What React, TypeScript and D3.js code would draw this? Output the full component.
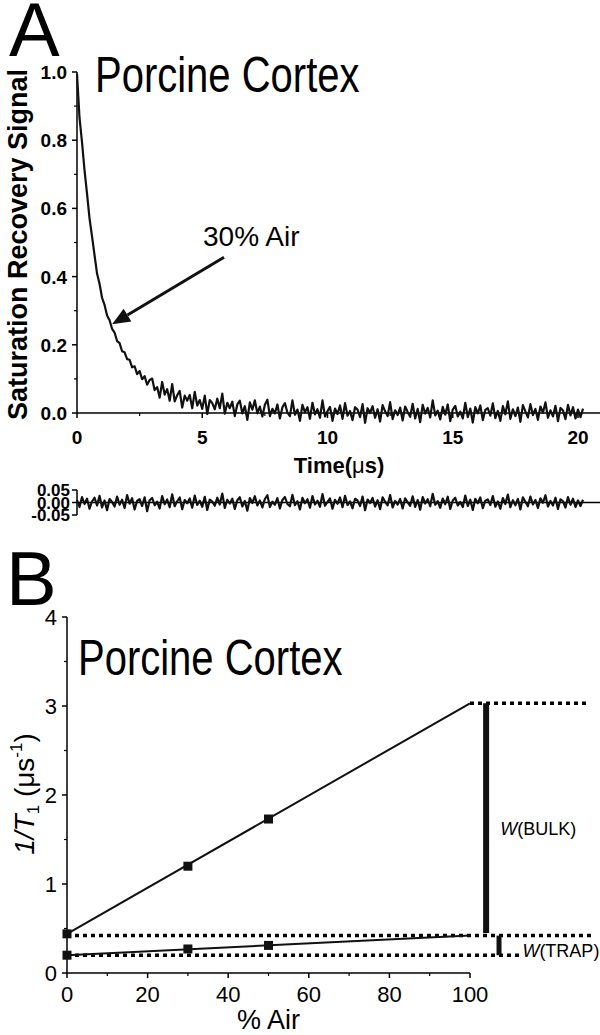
import React from "react";
import * as d3 from "d3";

// panel A: saturation recovery trace, sampled every 0.1 us
const dt = 0.1;
const signal = [
  0.995, 0.866, 0.794, 0.712, 0.643, 0.571, 0.518, 0.463, 0.409, 0.379,
  0.338, 0.317, 0.286, 0.272, 0.247, 0.236, 0.211, 0.205, 0.181, 0.178,
  0.158, 0.156, 0.134, 0.137, 0.114, 0.123, 0.099, 0.108, 0.083, 0.097,
  0.101, 0.067, 0.076, 0.045, 0.091, 0.054, 0.070, 0.036, 0.085, 0.034,
  0.052, 0.065, 0.016, 0.051, 0.036, 0.053, 0.014, 0.062, 0.022, 0.038,
  0.012, 0.051, -0.003, 0.038, 0.029, 0.011, 0.042, 0.014, 0.057, -0.002,
  0.030, 0.014, 0.033, -0.009, 0.025, 0.036, -0.001, 0.020, -0.020, 0.031,
  0.010, 0.037, -0.001, 0.019, -0.010, 0.024, 0.039, -0.009, 0.012, -0.001,
  0.025, -0.016, 0.017, 0.029, 0.001, -0.009, 0.037, -0.005, 0.010, -0.023,
  0.024, 0.002, 0.017, -0.017, 0.030, -0.004, 0.011, -0.014, 0.037, -0.010,
  0.005, 0.018, -0.023, 0.013, -0.003, 0.022, -0.017, 0.029, -0.008, 0.006,
  -0.021, 0.017, 0.010, -0.012, 0.026, -0.029, 0.014, 0.000, 0.020, -0.014,
  0.011, -0.025, 0.023, 0.005, -0.009, 0.032, -0.018, 0.008, -0.006, 0.016,
  -0.022, 0.019, 0.003, -0.011, 0.027, -0.016, 0.012, -0.027, 0.024, -0.002,
  0.015, -0.013, 0.037, -0.007, 0.007, -0.019, 0.018, -0.005, 0.025, -0.024,
  0.010, 0.021, -0.010, 0.004, -0.016, 0.030, -0.012, 0.013, -0.028, 0.017,
  -0.001, 0.022, -0.021, 0.009, 0.014, -0.008, 0.028, -0.015, 0.006, -0.023,
  0.020, -0.004, 0.034, -0.017, 0.011, -0.009, 0.016, -0.026, 0.023, 0.005,
  -0.013, 0.026, -0.006, 0.012, -0.020, 0.019, 0.001, 0.031, -0.014, 0.008,
  -0.010, 0.021, -0.024, 0.015, 0.007, -0.018, 0.024, -0.007, 0.017, -0.016,
  0.010, -0.012, 0.013,
];
const residual = [
  0.010, -0.018, 0.022, -0.006, 0.015, -0.025, 0.004, 0.019, -0.012, 0.027,
  -0.020, 0.008, -0.031, 0.014, 0.002, -0.016, 0.024, -0.009, 0.011, -0.022,
  0.030, -0.005, 0.017, -0.028, 0.006, 0.013, -0.014, 0.021, -0.035, 0.009,
  0.018, -0.011, 0.003, -0.024, 0.026, -0.007, 0.012, -0.019, 0.033, -0.015,
  0.005, 0.020, -0.027, 0.010, -0.003, 0.016, -0.021, 0.028, -0.010, 0.007,
  -0.017, 0.023, -0.030, 0.012, 0.004, -0.013, 0.019, -0.008, 0.036, -0.022,
  0.011, -0.004, 0.015, -0.026, 0.009, 0.021, -0.016, 0.006, -0.033, 0.018,
  -0.002, 0.025, -0.012, 0.008, -0.020, 0.014, 0.029, -0.018, 0.003, -0.009,
  0.017, -0.024, 0.010, 0.022, -0.006, -0.015, 0.031, -0.011, 0.005, -0.028,
  0.019, -0.003, 0.013, -0.021, 0.026, -0.008, 0.007, -0.017, 0.034, -0.013,
  0.002, 0.016, -0.025, 0.011, -0.005, 0.020, -0.019, 0.027, -0.010, 0.004,
  -0.023, 0.015, 0.008, -0.014, 0.024, -0.031, 0.012, -0.002, 0.018, -0.016,
  0.009, -0.027, 0.021, 0.003, -0.011, 0.030, -0.020, 0.006, -0.008, 0.014,
  -0.024, 0.017, 0.001, -0.013, 0.025, -0.018, 0.010, -0.029, 0.022, -0.004,
  0.013, -0.015, 0.035, -0.009, 0.005, -0.021, 0.016, -0.007, 0.023, -0.026,
  0.008, 0.019, -0.012, 0.002, -0.018, 0.028, -0.014, 0.011, -0.030, 0.015,
  -0.003, 0.020, -0.023, 0.007, 0.012, -0.010, 0.026, -0.017, 0.004, -0.025,
  0.018, -0.006, 0.032, -0.019, 0.009, -0.011, 0.014, -0.028, 0.021, 0.003,
  -0.015, 0.024, -0.008, 0.010, -0.022, 0.017, -0.001, 0.029, -0.016, 0.006,
  -0.012, 0.019, -0.026, 0.013, 0.005, -0.020, 0.022, -0.009, 0.015, -0.018,
  0.008, -0.014, 0.011,
];
const yTicksA = [0, 0.2, 0.4, 0.6, 0.8, 1.0];
const xTicksA = [0, 5, 10, 15, 20];
const residTicks = [0.05, 0, -0.05];
// arrow "30% Air": tail and tip in data units
const arrowTail = [5.87, 0.457];
const arrowTip = [1.4, 0.26];

// panel B: relaxation rate vs % air
const airPercent = [0, 30, 50];
const bulkRate = [0.44, 1.2, 1.73];
const trapRate = [0.2, 0.27, 0.31];
const fitAir = [0, 100];
const bulkFit = [0.44, 3.03];
const trapFit = [0.2, 0.42];
const xTicksB = [0, 20, 40, 60, 80, 100];
const yTicksB = [0, 1, 2, 3, 4];

const font = "'Liberation Sans', Arial, Helvetica, sans-serif";

const App = () => {
  const xA = d3.scaleLinear().domain([0, 20]).range([77, 578]);
  const yA = d3.scaleLinear().domain([0, 1]).range([413, 72]);
  const yR = d3.scaleLinear().domain([-0.05, 0.05]).range([515, 490]);
  const xB = d3.scaleLinear().domain([0, 100]).range([67, 470]);
  const yB = d3.scaleLinear().domain([0, 4]).range([973, 617]);

  const sigLine = d3.line<number>().x((d, i) => xA(i * dt)).y(d => yA(d));
  const resLine = d3.line<number>().x((d, i) => xA(i * dt)).y(d => yR(d));

  // arrow geometry
  const tx = xA(arrowTail[0]), ty = yA(arrowTail[1]);
  const hx = xA(arrowTip[0]), hy = yA(arrowTip[1]);
  const ang = Math.atan2(hy - ty, hx - tx);
  const headLen = 18, headW = 7.5;
  const bx = hx - headLen * Math.cos(ang), by = hy - headLen * Math.sin(ang);
  const head = [
    [hx, hy],
    [bx + headW * Math.sin(ang), by - headW * Math.cos(ang)],
    [bx - headW * Math.sin(ang), by + headW * Math.cos(ang)],
  ].map(p => p.join(",")).join(" ");

  const minorA = [0.1, 0.3, 0.5, 0.7, 0.9];
  const minorXA = [2.5, 7.5, 12.5, 17.5];
  const minorYB = [0.5, 1.5, 2.5, 3.5];
  const minorXB = [10, 30, 50, 70, 90];

  const dotted = { stroke: "#000", strokeWidth: 3.5, strokeDasharray: "4,4", fill: "none" };

  return (
    <svg width={600} height={1035} style={{ position: "absolute", left: 0, top: 0, background: "#fff" }} fontFamily={font}>
      {/* ---------- panel A ---------- */}
      <text x={9} y={56} fontSize={76}>A</text>
      <text transform="translate(95,92) scale(1,1.25)" fontSize={40}>Porcine Cortex</text>

      {/* y axis */}
      <line x1={77} x2={77} y1={yA(1)} y2={yA(0)} stroke="#000" strokeWidth={1.5} />
      {yTicksA.map(t => (
        <g key={t}>
          <line x1={72} x2={77} y1={yA(t)} y2={yA(t)} stroke="#000" strokeWidth={1.5} />
          <text x={67} y={yA(t) + 7} textAnchor="end" fontSize={19} fontWeight="bold">{t.toFixed(1)}</text>
        </g>
      ))}
      {minorA.map(t => (
        <line key={t} x1={74} x2={77} y1={yA(t)} y2={yA(t)} stroke="#000" strokeWidth={1.2} />
      ))}
      <text transform={`translate(27,${(yA(0) + yA(1)) / 2 + 2}) rotate(-90)`} textAnchor="middle" fontSize={27} fontWeight="bold">
        Saturation Recovery Signal
      </text>

      {/* x axis */}
      <line x1={77} x2={600} y1={yA(0)} y2={yA(0)} stroke="#000" strokeWidth={1.5} />
      {xTicksA.map(t => (
        <g key={t}>
          <line x1={xA(t)} x2={xA(t)} y1={yA(0)} y2={yA(0) + 5} stroke="#000" strokeWidth={1.5} />
          <text x={xA(t)} y={444} textAnchor="middle" fontSize={19} fontWeight="bold">{t}</text>
        </g>
      ))}
      {minorXA.map(t => (
        <line key={t} x1={xA(t)} x2={xA(t)} y1={yA(0)} y2={yA(0) + 3} stroke="#000" strokeWidth={1.2} />
      ))}
      <text x={339} y={473} textAnchor="middle" fontSize={22} fontWeight="bold">
        Time(<tspan fontWeight="normal">μ</tspan>s)
      </text>

      <path d={sigLine(signal) ?? ""} fill="none" stroke="#111" strokeWidth={2.2} strokeLinejoin="round" />

      {/* annotation arrow */}
      <line x1={tx} y1={ty} x2={bx} y2={by} stroke="#111" strokeWidth={3} />
      <polygon points={head} fill="#111" />
      <text x={xA(5.03)} y={yA(0.49)} fontSize={28}>30% Air</text>

      {/* residuals */}
      <line x1={77} x2={600} y1={yR(0)} y2={yR(0)} stroke="#000" strokeWidth={1.5} />
      <line x1={77} x2={77} y1={yR(0.05)} y2={yR(-0.05)} stroke="#000" strokeWidth={1.5} />
      {residTicks.map(t => (
        <g key={t}>
          <line x1={72} x2={77} y1={yR(t)} y2={yR(t)} stroke="#000" strokeWidth={1.5} />
          <text x={70} y={yR(t) + 6} textAnchor="end" fontSize={17} fontWeight="bold">{t.toFixed(2)}</text>
        </g>
      ))}
      <path d={resLine(residual) ?? ""} fill="none" stroke="#111" strokeWidth={2.2} strokeLinejoin="round" />

      {/* ---------- panel B ---------- */}
      <text x={6} y={605} fontSize={76}>B</text>
      <text transform="translate(78,675) scale(1,1.25)" fontSize={40}>Porcine Cortex</text>

      <line x1={xB(0)} x2={xB(0)} y1={yB(4)} y2={yB(0)} stroke="#000" strokeWidth={1.5} />
      {yTicksB.map(t => (
        <g key={t}>
          <line x1={xB(0) - 5} x2={xB(0)} y1={yB(t)} y2={yB(t)} stroke="#000" strokeWidth={1.5} />
          <text x={57} y={yB(t) + 8} textAnchor="end" fontSize={22}>{t}</text>
        </g>
      ))}
      {minorYB.map(t => (
        <line key={t} x1={xB(0) - 3} x2={xB(0)} y1={yB(t)} y2={yB(t)} stroke="#000" strokeWidth={1.2} />
      ))}
      <text transform={`translate(34,${yB(2) - 1}) rotate(-90)`} textAnchor="middle" fontSize={28}>
        <tspan fontStyle="italic">1/T</tspan>
        <tspan fontSize={17} dy={5}>1</tspan>
        <tspan dy={-5}> (μs</tspan>
        <tspan fontSize={17} dy={-12}>-1</tspan>
        <tspan dy={12}>)</tspan>
      </text>

      <line x1={xB(0)} x2={xB(100)} y1={yB(0)} y2={yB(0)} stroke="#000" strokeWidth={1.5} />
      {xTicksB.map(t => (
        <g key={t}>
          <line x1={xB(t)} x2={xB(t)} y1={yB(0)} y2={yB(0) + 5} stroke="#000" strokeWidth={1.5} />
          <text x={xB(t)} y={1002} textAnchor="middle" fontSize={22}>{t}</text>
        </g>
      ))}
      {minorXB.map(t => (
        <line key={t} x1={xB(t)} x2={xB(t)} y1={yB(0)} y2={yB(0) + 3} stroke="#000" strokeWidth={1.2} />
      ))}
      <text x={(xB(0) + xB(100)) / 2} y={1029} textAnchor="middle" fontSize={27}>% Air</text>

      {/* dotted reference levels */}
      <line x1={xB(100)} x2={xB(129.5)} y1={yB(bulkFit[1])} y2={yB(bulkFit[1])} style={dotted} />
      <line x1={xB(0)} x2={xB(130.5)} y1={yB(trapFit[1])} y2={yB(trapFit[1])} style={dotted} />
      <line x1={xB(0)} x2={xB(112.5)} y1={yB(trapFit[0])} y2={yB(trapFit[0])} style={dotted} />

      {/* fit lines */}
      <line x1={xB(fitAir[0])} y1={yB(bulkFit[0])} x2={xB(fitAir[1])} y2={yB(bulkFit[1])} stroke="#111" strokeWidth={2} />
      <line x1={xB(fitAir[0])} y1={yB(trapFit[0])} x2={xB(fitAir[1])} y2={yB(trapFit[1])} stroke="#111" strokeWidth={2} />

      {airPercent.map((a, i) => (
        <g key={a}>
          <rect x={xB(a) - 4.5} y={yB(bulkRate[i]) - 4.5} width={9} height={9} fill="#111" />
          <rect x={xB(a) - 4.5} y={yB(trapRate[i]) - 4.5} width={9} height={9} fill="#111" />
        </g>
      ))}

      {/* W bars */}
      <line x1={xB(104)} x2={xB(104)} y1={yB(bulkFit[1])} y2={yB(0.45)} stroke="#111" strokeWidth={6} />
      <line x1={xB(107.2)} x2={xB(107.2)} y1={yB(trapFit[1])} y2={yB(trapFit[0])} stroke="#111" strokeWidth={5} />
      <text x={xB(107.5)} y={yB(1.63) + 7} fontSize={18}>
        <tspan fontStyle="italic">W</tspan>(BULK)
      </text>
      <text x={xB(113)} y={yB(0.26) + 7} fontSize={18}>
        <tspan fontStyle="italic">W</tspan>(TRAP)
      </text>
    </svg>
  );
};

export default App;
